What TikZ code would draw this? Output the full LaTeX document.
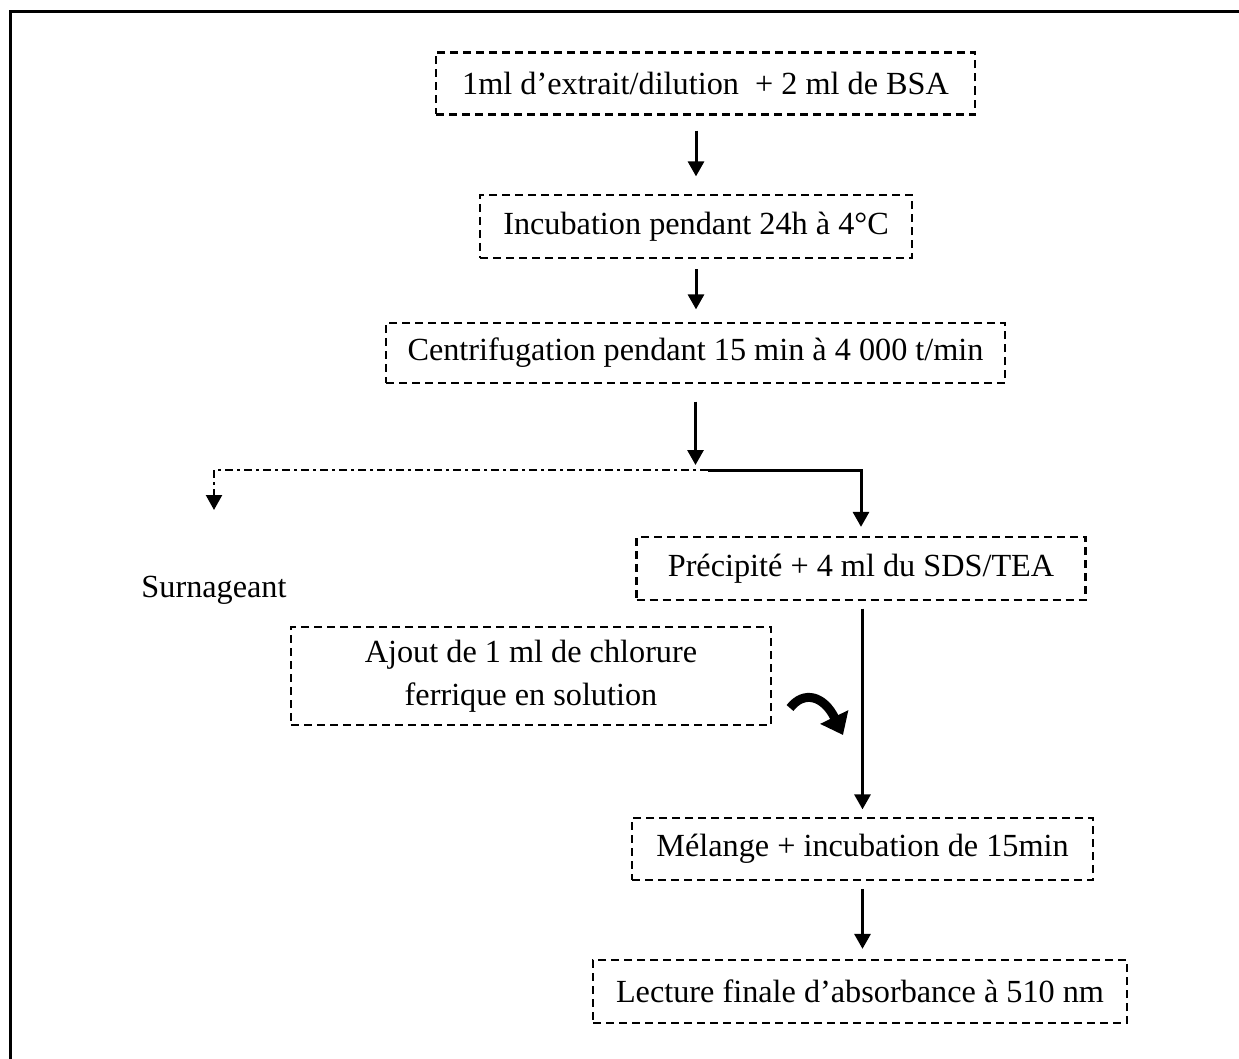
\documentclass[tikz,border=0pt]{standalone}
\usepackage{fontspec}
\setmainfont{Liberation Serif}
\usepackage{tikz}
\usetikzlibrary{arrows.meta,calc}
\tikzset{
  stepbox/.style={draw,dash pattern=on 3.2pt off 2pt,line width=0.9pt,
    inner sep=0pt,align=center,font=\fontsize{12.9}{17}\selectfont},
  plain/.style={inner sep=0pt,font=\fontsize{12.9}{17}\selectfont},
  darrow/.style={-{Triangle[length=6pt,width=6.4pt]},line width=1.2pt},
  dashdot/.style={dash pattern=on 3.2pt off 1.6pt on 1.2pt off 1.6pt,line width=0.9pt},
  frame/.style={line width=1.2pt}
}

\begin{document}
\begin{tikzpicture}[x=0.4pt,y=-0.4pt]
  \useasboundingbox (0,0) rectangle (1239,1059);
  % outer frame (cut off on the right and at the bottom)
  \draw[frame] (10,1059) -- (10,12) -- (1239,12);

  % main column
  \node[stepbox,minimum width=215.6pt,minimum height=24.8pt] (mix) at (705.5,83.5)
    {1ml d’extrait/dilution\ \ + 2 ml de BSA};
  \node[stepbox,minimum width=172.8pt,minimum height=25.2pt] (incub) at (696,226.5)
    {Incubation pendant 24h à 4°C};
  \node[stepbox,minimum width=247.6pt,minimum height=24pt] (centri) at (695.5,353)
    {Centrifugation pendant 15 min à 4 000 t/min};

  % split
  \coordinate (fork) at (708,470);
  \node[plain] (surn) at (214,590) {Surnageant};
  \node[stepbox,minimum width=179.6pt,minimum height=25.2pt] (precip) at (861,568.5)
    {Précipité + 4 ml du SDS/TEA};
  \coordinate (forkL) at (surn |- fork);
  \coordinate (forkR) at (precip |- fork);

  % reagent and last steps
  \node[stepbox,minimum width=192pt,minimum height=39.2pt] (ajout) at (531,676)
    {Ajout de 1 ml de chlorure\\ferrique en solution};
  \node[stepbox,minimum width=184.4pt,minimum height=24.8pt] (melange) at (862.5,849)
    {Mélange + incubation de 15min};
  \node[stepbox,minimum width=213.6pt,minimum height=25.2pt] (lecture) at (860,991.5)
    {Lecture finale d’absorbance à 510 nm};

  % arrows
  \draw[darrow,shorten <=6pt,shorten >=7pt] (mix.south -| incub) -- (incub.north);
  \draw[darrow,shorten <=4pt,shorten >=5pt] (incub.south) -- (incub.south |- centri.north);
  \draw[darrow,shorten <=7pt,shorten >=2pt] (centri.south) -- (centri.south |- fork);
  \draw[darrow,dashdot] (fork) -- (forkL) -- ($(forkL)+(0,40)$);
  \draw[darrow,shorten >=3.6pt] (fork) -- (forkR) -- (precip.north);
  \draw[darrow,shorten <=3pt,shorten >=3pt] (precip.south -| melange) -- (melange.north);
  \draw[darrow,shorten <=3.2pt,shorten >=4pt] (melange.south) -- (melange.south |- lecture.north);

  % curled arrow from the reagent box
  \coordinate (curlA) at (790,708);
  \coordinate (curlB) at (843,735);
  \draw[line width=3.6pt,-{Triangle[length=8pt,width=12pt]}]
    (curlA) .. controls (804,690) and (824,696) .. (curlB);
\end{tikzpicture}
\end{document}
